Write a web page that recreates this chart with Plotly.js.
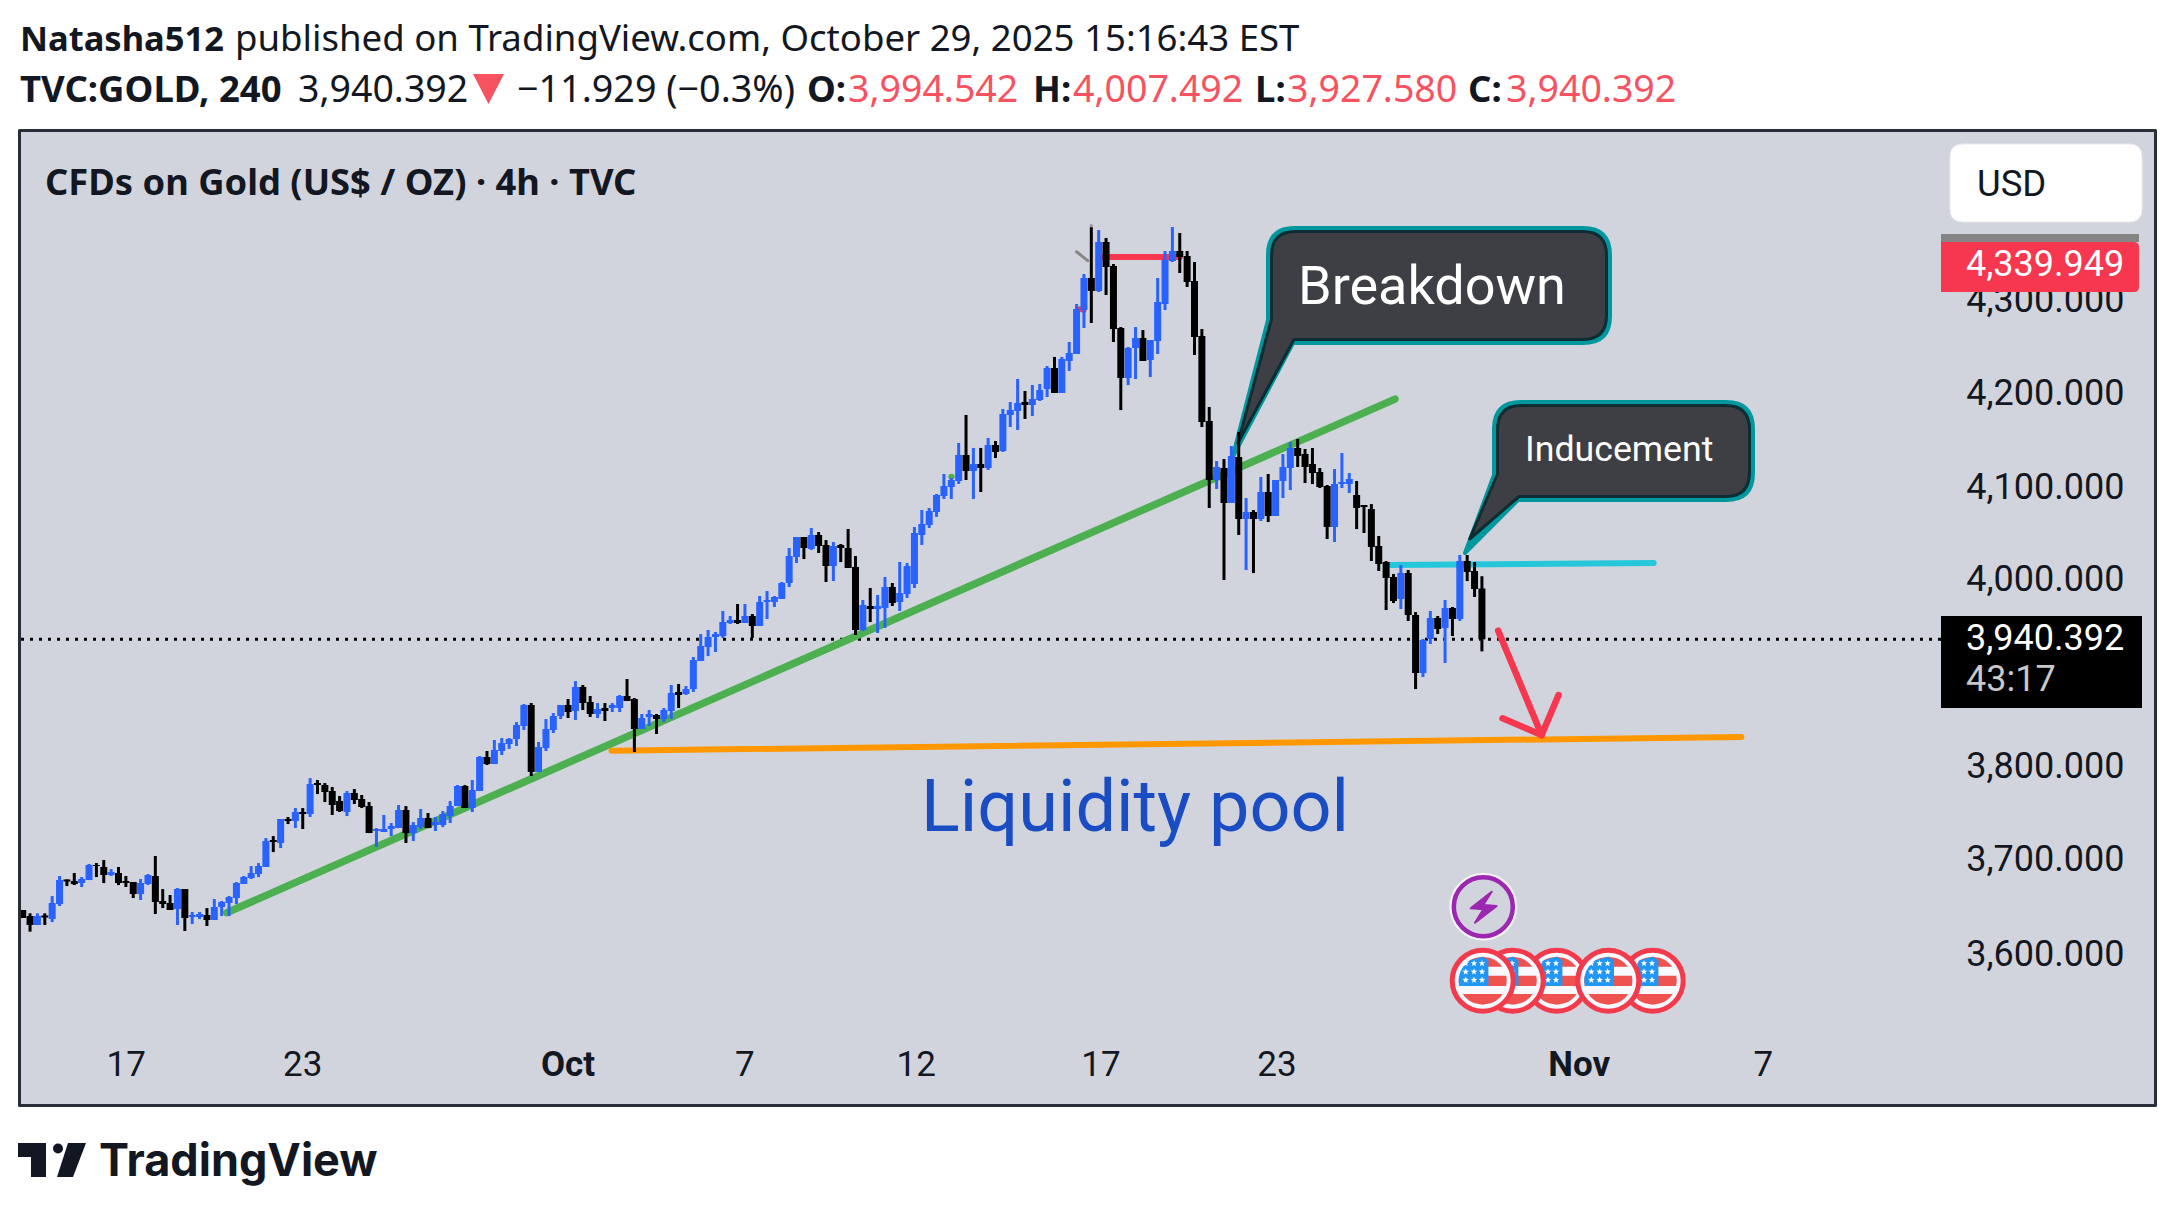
<!DOCTYPE html>
<html><head><meta charset="utf-8">
<script src="https://cdn.plot.ly/plotly-3.0.1.min.js"></script>
<style>html,body{margin:0;padding:0;background:#fff}.shapelayer path{stroke-linecap:round;stroke-linejoin:round}.shapelayer path[style*="dasharray: 3"]{stroke-linecap:butt}</style>
</head><body><div id="chart" style="width:2175px;height:1215px"></div>
<script>
// Gold 4h candles (oldest to newest)
const opens=[3652.4,3646,3636.5,3646.7,3642.8,3658.8,3685,3683.3,3681.1,3684.3,3700.3,3698.2,3689.6,3691.8,3683.3,3682.2,3669.4,3680.1,3688.6,3662,3659.9,3653.5,3674.7,3645,3645,3647.1,3641.8,3655.6,3659.9,3665.2,3680.1,3686.5,3690.7,3698.2,3726.9,3723.7,3749.2,3747.1,3756.7,3754.5,3787.5,3785.4,3779,3768.4,3756.7,3776.9,3770.5,3763,3736.5,3735.4,3738.6,3739.6,3758.8,3734.3,3740.7,3750.3,3742.8,3742.8,3752.4,3763,3784.3,3760.9,3779,3815.2,3807.7,
3821.6,3829,3834.3,3848.2,3870.5,3799.2,3824.8,3843.9,3858.8,3870.5,3864.1,3889.7,3873.7,3861,3867.3,3867.3,3867.3,3880.1,3876.9,3845,3857.8,3859.9,3855.6,3864.1,3884.4,3882.2,3887.5,3917.3,3932.2,3942.9,3943.9,3957.8,3961,3957.8,3965.2,3954.6,3980.1,3980.1,3983.3,4000.3,4028,4049.2,4036.5,4051.4,4040.7,4018.4,4040.7,4037.5,4017.3,3950.3,3975.8,
3972.7,3973.7,3996.1,3980.1,3988.6,3999.3,4051.4,4062.1,4075.9,4092.9,4102.5,4108.9,4136.5,4119.5,4127,4122.7,4147.1,4140.8,4179.1,4183.3,4192.9,4189.7,4195,4206.7,4229,4202.5,4236.5,4244,
4290.7,4324.8,4310.9,4363,4337.5,4271.6,4218.4,4250.3,4260.9,4237.5,4257.8,4297.1,4342.8,4353.5,4348.2,4321.6,4263,4172.6,4109.9,4122.6,4085.4,4134.3,
4068.4,4075.8,4068.4,4097.1,4071.6,4108.8,4122.6,4143.9,4137.5,4126.9,4118.4,4103.5,4059.9,4105.6,4105.6,4093.9,4083.3,4079,4039.7,4022.6,4006.7,3983.3,4010.9,3966.3,3904.6,3940.7,3963.1,3952.4,3973.7,3962,4023.7,4013.1,3994.5];
const highs=[3652.4,3648.9,3648.9,3648.9,3667.3,3688.6,3685,3691.8,3687.5,3701.4,3702.4,3705.6,3696,3698.2,3688.6,3682.2,3685.4,3690.7,3709.9,3674.7,3668.4,3675.8,3674.7,3650.3,3650.3,3654.5,3664.1,3662,3667.3,3682.2,3688.6,3699.2,3702.4,3729,3731.1,3749.2,3751.4,3760.9,3760.9,3792.8,3790.7,3787.5,3783.3,3773.7,3779,3781.1,3774.8,3767.3,3739.6,3753.5,3745,3764.1,3763,3746,3759.9,3755.6,3751.4,3757.7,3768.4,3785.4,3785.4,3790.7,3816.2,3821.6,3833.3,
3835.4,3835.4,3852.4,3871.6,3872.6,3831.2,3855.6,3862,3870.5,3876.9,3896,3891.8,3880.1,3872.6,3872.6,3872.6,3881.2,3898.2,3878,3861,3865.2,3861,3867.3,3891.8,3892.9,3890.7,3921.6,3946,3950.3,3948.2,3970.5,3965.2,3978,3978,3967.3,3986.5,3991.8,3986.5,4001.4,4037.5,4049.2,4049.2,4058.8,4054.6,4046,4043.9,4041.8,4057.8,4029,3982.2,3995,
3987.6,4006.7,4000.3,4022.7,4021.6,4059.9,4078,4080.1,4095,4116.3,4112,4149.3,4179.1,4144,4144,4154.6,4151.4,4185.4,4192.9,4217.4,4204.6,4211,4212,4231.2,4240.8,4240.8,4256.7,4297.1,
4329,4378.7,4375.8,4367.3,4339.7,4272.6,4251.4,4272.6,4269.4,4258.8,4324.8,4353.5,4379,4372.6,4353.5,4341.8,4270.5,4187.5,4130.1,4132.2,4146,4160.9,
4090.7,4077.9,4113.1,4116.3,4109.9,4137.5,4150.3,4153.5,4142.9,4143.9,4122.6,4104.6,4121.6,4138.6,4117.3,4108.8,4083.3,4084.3,4050.3,4023.7,4009.9,4019.4,4014.1,3969.4,3940.7,3970.5,3965.2,3982.2,3974.8,4030.1,4030.1,4022.6,4007.5];
const lows=[3643.9,3629.4,3636.5,3636.5,3639.6,3656.7,3677.9,3679,3676.9,3684.3,3687.5,3681.1,3688.6,3679,3676.9,3665.2,3663.1,3679,3648.2,3654.5,3652.4,3636.5,3630.1,3637.5,3642.8,3635.4,3641.8,3646,3646,3658.8,3680.1,3685.4,3687.5,3698.2,3714.1,3718.4,3743.9,3739.6,3738.6,3751.4,3775.8,3767.3,3753.5,3756.7,3752.4,3765.2,3760.9,3734.3,3719.4,3735.4,3731.1,3739.6,3723.7,3725.8,3738.6,3739.6,3736.5,3740.7,3745,3763,3760.9,3756.7,3779,3806.7,3807.7,
3817.3,3823.7,3826.9,3843.9,3795,3799.2,3821.6,3840.7,3855.6,3856.7,3854.6,3865.2,3857.8,3856.7,3853.5,3863.1,3863.1,3874.8,3820.5,3845,3848.2,3839.7,3852.4,3855.6,3867.3,3881.2,3884.4,3917.3,3922.6,3926.9,3941.8,3956.7,3956.7,3957.8,3941.8,3954.6,3962,3974.8,3983.3,3996,4021.6,4025.8,4035.4,4032.2,4001.4,4002.4,4022.6,4016.3,3945,3949.2,3958.8,
3947.2,3952.5,3975.9,3970.6,3984.4,3995,4040.8,4058.8,4070.6,4089.7,4089.7,4105.7,4109.9,4089.7,4097.1,4120.6,4133.3,4139.7,4166.3,4163.1,4174.8,4178,4193.9,4198.2,4202.5,4202.5,4225.9,4244,
4271.6,4276.9,4309.9,4306.7,4256.7,4184.3,4210.9,4217.3,4236.5,4219.4,4243.9,4290.7,4341.8,4330.1,4315.2,4242.9,4166.3,4080.1,4100.3,4003.5,4085.4,4051.4,
4014.1,4010.9,4066.3,4065.2,4071.6,4090.7,4099.2,4123.7,4106.7,4105.6,4101.4,4047.1,4043.9,4101.4,4096.1,4057.7,4053.5,4023.7,4013.1,3971.6,3979,3972.6,3959.9,3887.5,3900.3,3935.4,3946,3915.2,3943.9,3959.9,4002.4,3985.4,3927.6];
const closes=[3643.9,3636.5,3646,3644.6,3659.9,3684.3,3682.9,3680.1,3685.4,3700.3,3699.2,3689.6,3692.8,3681.1,3681.1,3669.4,3681.1,3689.6,3660.9,3658.8,3652.4,3674.7,3643.9,3647.1,3648.2,3641.8,3655.6,3660.9,3666.2,3681.1,3687.5,3691.8,3699.2,3725.8,3724.8,3749.2,3747.1,3756.7,3754.5,3786.4,3785.4,3777.9,3764.1,3757.7,3776.9,3769.4,3762,3734.3,3738.6,3738.6,3741.8,3758.8,3734.3,3742.8,3750.3,3739.6,3746,3754.5,3763,3784.3,3760.9,3780.1,3815.2,3807.7,3822.6,
3830.1,3834.3,3849.2,3870.5,3799.2,3825.8,3845,3858.8,3870.5,3863.1,3889.7,3872.6,3861,3866.3,3864.1,3870.5,3880.1,3874.8,3845,3856.7,3861,3855.6,3865.2,3883.3,3881.2,3887.5,3918.4,3933.3,3942.9,3946,3958.8,3961,3957.8,3965.2,3954.6,3980.1,3982.2,3985.4,4000.3,4029,4049.2,4037.5,4051.4,4039.7,4018.4,4039.7,4037.5,4016.3,3950.3,3976.9,3972.6,
3975.9,3996.1,3979.1,3989.7,4018.4,4053.5,4063.1,4077,4094,4103.5,4109.9,4136.5,4119.5,4127,4122.7,4147.1,4139.7,4180.1,4184.4,4191.8,4189.7,4196.1,4205.6,4229,4202.5,4238.6,4245,4291.8,
4324.8,4310.9,4363,4336.5,4270.5,4218.4,4250.3,4260.9,4236.5,4258.8,4299.2,4343.9,4353.5,4347.1,4320.5,4262,4171.6,4109.9,4123.7,4085.4,4135.4,4068.4,
4075.8,4068.4,4097.1,4071.6,4109.9,4123.7,4143.9,4135.4,4123.7,4117.3,4102.4,4059.9,4105.6,4107.7,4110.9,4080.1,4081.2,4038.6,4020.5,4005.6,3981.1,4010.9,3966.3,3904.6,3939.7,3963.1,3951.4,3973.7,3962,4023.7,4012,3993.9,3940.4];
const candleIndex=opens.map((_,i)=>i);

// axis ticks
const priceTickPositions=[3606,3707,3806,4005,4103,4203,4301.5];
const priceTickLabels=['3,600.000','3,700.000','3,800.000','4,000.000','4,100.000','4,200.000','4,300.000'];
const dateTickPositions=[14.05,38,74,98,121.25,146.3,170.2,211.2,236.2];
const dateTickLabels=['17','23','<b>Oct</b>','7','12','17','23','<b>Nov</b>','7'];

// drawings on the chart: [index, price] pairs
const trendLine=[[27.7,3649.6],[186.2,4196.0]];
const liquidityLine=[[79.9,3821.9],[233.2,3836.5]];
const inducementLine=[[185.5,4019.5],[221.3,4021.6]];
const topLine=[[146.6,4347.1],[157,4347.1]];
const arrowShaft=[[200.2,3949.6],[206.1,3838.6]];
const arrowHeadLeft=[[200.8,3856.4],[206.1,3838.6]];
const arrowHeadRight=[[208.4,3881.1],[206.1,3838.6]];
const greyTick=[[143,4352.7],[144.5,4343.2]];
const lastPrice=3940.392;

const W=2175,H=1215,PL=21,PR=1946,PT=132,PB=1030;
const BG='#d1d4dc',INK='#131722',RED='#f7374f',TEAL='#00979f',DARK='#0d2d33',BOX='#3e3f44';
const px=x=>(x-PL)/(PR-PL), py=y=>(PB-y)/(PB-PT);
const pt=(x,y)=>px(x)+','+py(y);
const shapes=[];
const pshape=(o)=>shapes.push(Object.assign({xref:'paper',yref:'paper',layer:'below'},o));
const rect=(x0,y0,x1,y1,o)=>pshape(Object.assign({type:'rect',x0:px(x0),x1:px(x1),y0:py(y0),y1:py(y1)},o));
const circ=(cx,cy,r,o)=>pshape(Object.assign({type:'circle',x0:px(cx-r),x1:px(cx+r),y0:py(cy-r),y1:py(cy+r)},o));
const poly=(pts,o)=>pshape(Object.assign({type:'path',path:'M'+pts.map(p=>pt(p[0],p[1])).join('L')+'Z'},o));
const dline=(seg,color,width,extra)=>shapes.push(Object.assign({type:'line',xref:'x',yref:'y',layer:'below',x0:seg[0][0],y0:seg[0][1],x1:seg[1][0],y1:seg[1][1],line:{color:color,width:width}},extra||{}));
function rrect(l,t,r,b,rl,rr,o){
  const p='M'+pt(l+rl,t)+'L'+pt(r-rr,t)+'Q'+pt(r,t)+' '+pt(r,t+rr)+'L'+pt(r,b-rr)+'Q'+pt(r,b)+' '+pt(r-rr,b)+'L'+pt(l+rl,b)+'Q'+pt(l,b)+' '+pt(l,b-rl)+'L'+pt(l,t+rl)+'Q'+pt(l,t)+' '+pt(l+rl,t)+'Z';
  pshape(Object.assign({type:'path',path:p},o));
}

// frame
rect(19.5,130.5,2155.5,1105.5,{fillcolor:BG,line:{color:'#2a2e39',width:3}});

// callouts
function calloutPath(l,t,r,b,rad,tip,jy,jx){
  const R=Math.min(rad,(b-t)/2);
  return 'M'+pt(l+R,t)+'L'+pt(r-R,t)+'Q'+pt(r,t)+' '+pt(r,t+R)+'L'+pt(r,b-R)+'Q'+pt(r,b)+' '+pt(r-R,b)+
    'L'+pt(jx,b)+'L'+pt(tip[0],tip[1])+'L'+pt(l,jy)+'L'+pt(l,t+R)+'Q'+pt(l,t)+' '+pt(l+R,t)+'Z';
}
function callout(l,t,r,b,rad,tip,jy,jx){
  pshape({type:'path',path:calloutPath(l+2,t+2,r-2,b-2,rad,tip,jy,jx+1),fillcolor:TEAL,line:{color:TEAL,width:4}});
  const tip2=[tip[0]+(jx-tip[0])*0.07+1,tip[1]-14];
  pshape({type:'path',path:calloutPath(l+5.5,t+5.5,r-5.5,b-5.5,rad-3,tip2,jy-1,jx+2),fillcolor:BOX,line:{color:DARK,width:3}});
}
callout(1266,226,1612,345,27,[1232.7,457],320,1292);
callout(1492,400,1755,502,27,[1465,553],475,1517);

// drawn levels
dline(trendLine,'#4caf50',7.5);
dline([[126,4113.4],[126.05,4113.4]],'#4caf50',6);
dline(liquidityLine,'#ff9800',6);
dline(inducementLine,'#26c6da',6);
dline(topLine,RED,6);
dline([[143.4,4292],[144,4290]],RED,5);
dline(greyTick,'#868686',3);
dline([[145,4381],[145,4378.5]],'#9a9a9a',3);
shapes.push({type:'line',xref:'paper',yref:'y',layer:'below',x0:0,x1:1,y0:lastPrice,y1:lastPrice,line:{color:'#000',width:3,dash:'3px,6px'}});
dline(arrowShaft,RED,6.5);dline(arrowHeadLeft,RED,6.5);dline(arrowHeadRight,RED,6.5);

// lightning event marker
circ(1483.3,906.7,34,{fillcolor:'#f4f4f8',line:{width:0}});
circ(1483.3,906.7,29.5,{fillcolor:BG,line:{color:'#9c27b0',width:4.5}});
poly([[1491.7,891.7],[1470.7,908.3],[1483.3,909.3],[1475,922.7],[1496.7,906],[1483.3,905]],{fillcolor:'#9c27b0',line:{color:'#9c27b0',width:2}});

// flag event markers
function band(cx,cy,r,y0,y1,x0,x1){
  const L=[],Rr=[];
  for(let y=y0;y<=y1+0.001;y+=(y1-y0)/8){
    const w=Math.sqrt(Math.max(0,r*r-y*y));
    L.push([cx+Math.max(-w,x0),cy+y]);Rr.unshift([cx+Math.min(w,x1),cy+y]);
  }
  return L.concat(Rr);
}
function star(cx,cy,r){
  const a=[];for(let k=0;k<10;k++){const q=k%2?r*0.42:r,t=-Math.PI/2+k*Math.PI/5;a.push([cx+q*Math.cos(t),cy+q*Math.sin(t)]);}
  return a;
}
function flag(cx){
  const cy=980.7,r=24,S='#ef5350';
  circ(cx,cy,30.5,{fillcolor:'#f8f8ff',line:{color:'#f23a4d',width:5}});
  [[-24,-14],[-5,5.3],[13.3,24]].forEach(b=>poly(band(cx,cy,r,b[0],b[1],-30,30),{fillcolor:S,line:{width:0}}));
  poly(band(cx,cy,r,-24,5.3,-30,5.7),{fillcolor:'#2196f3',line:{width:0}});
  [-17.3,-9,-0.7].forEach(dy=>[-17,-8.7,-0.7].forEach(dx=>poly(star(cx+dx,cy+dy,3.4),{fillcolor:'#fff',line:{width:0}})));
}
[1556.7,1652.7,1608.3,1512.7,1482.7].forEach(flag);

// price scale widgets
rrect(1950,144,2142,222,13,13,{fillcolor:'#fff',line:{color:'#ececf0',width:1},layer:'above'});
rect(1941,234,2139,242,{fillcolor:'#858585',line:{width:0},layer:'above'});
rrect(1941,242,2139,292,0.01,5,{fillcolor:RED,line:{width:0},layer:'above'});
rect(1941,616,2142,708,{fillcolor:'#000',line:{width:0},layer:'above'});

// header triangle
poly([[473,74],[504,74],[488.5,104]],{fillcolor:'#f7525f',line:{width:0}});

// TradingView logo
const ink={fillcolor:INK,line:{width:0}};
poly([[18,1143],[46,1143],[46,1177],[31,1177],[31,1157],[18,1157]],ink);
circ(58,1148.5,5,ink);
poly([[68,1143],[86,1143],[73,1177],[57,1177]],ink);

const T=(text,x,y,size,color,anchor,family)=>({text:text,x:px(x),y:py(y),xref:'paper',yref:'paper',showarrow:false,xanchor:anchor||'left',yanchor:'middle',borderpad:0,font:{size:size,color:color,family:family||'Roboto'}});
const RT='#f7525f',HF='Noto Sans';
const annotations=[
 T('<b>Natasha512</b>',19,37,34.5,INK,'left',HF),
 T('published on TradingView.com, October 29, 2025 15:16:43 EST',234,37,36.6,INK,'left',HF),
 T('<b>TVC:GOLD, 240</b>',19,88,36.5,INK,'left',HF),
 T('3,940.392',297,88,37.5,INK,'left',HF),
 T('−11.929 (−0.3%)',516,88,37.7,INK,'left',HF),
 T('<b>O:</b>',806,88,36.5,INK,'left',HF),
 T('3,994.542',847,88,37.5,RT,'left',HF),
 T('<b>H:</b>',1032,88,36.5,INK,'left',HF),
 T('4,007.492',1072,88,37.5,RT,'left',HF),
 T('<b>L:</b>',1254,88,36.5,INK,'left',HF),
 T('3,927.580',1286,88,37.5,RT,'left',HF),
 T('<b>C:</b>',1467,88,36.5,INK,'left',HF),
 T('3,940.392',1505,88,37.5,RT,'left',HF),
 T('<b>CFDs on Gold (US$ / OZ) · 4h · TVC</b>',44,181,36.3,INK,'left',HF),
 T('Breakdown',1297,285,54,'#fff'),
 T('Inducement',1524,449,35.7,'#fff'),
 T('Liquidity pool',919.5,806,72,'#1a4cc4'),
 T('USD',1976,183,36.5,INK),
 T('4,339.949',1965,264,36,'#fff'),
 T('3,940.392',1965,638,36,'#fff'),
 T('43:17',1965,679,36,'#c8c8c8'),
 T('<b>TradingView</b>',98,1159,45,INK,'left','Inter')
];

const trBody={type:'candlestick',x:candleIndex,open:opens,high:highs,low:lows,close:closes,
  increasing:{line:{color:'#2962ff',width:0},fillcolor:'#2962ff'},
  decreasing:{line:{color:'#000',width:0},fillcolor:'#000'},hoverinfo:'skip',showlegend:false};
const trWick={type:'ohlc',x:candleIndex,open:opens,high:highs,low:lows,close:closes,tickwidth:0,
  increasing:{line:{color:'#2962ff',width:3}},decreasing:{line:{color:'#000',width:3}},hoverinfo:'skip',showlegend:false};

Plotly.newPlot('chart',[trWick,trBody],{
  width:W,height:H,margin:{l:PL,r:W-PR,t:PT,b:H-PB,autoexpand:false},
  paper_bgcolor:'#fff',plot_bgcolor:'rgba(0,0,0,0)',showlegend:false,
  boxmode:'overlay',boxgap:0.05,boxgroupgap:0,
  xaxis:{range:[-0.23,260.97],rangeslider:{visible:false},tickmode:'array',tickvals:dateTickPositions,ticktext:dateTickLabels,
    showgrid:false,zeroline:false,showline:false,ticks:'outside',ticklen:3,tickcolor:'rgba(0,0,0,0)',
    tickfont:{family:'Roboto',size:35,color:INK},tickangle:0},
  yaxis:{range:[3524.8,4480.1],side:'right',tickmode:'array',tickvals:priceTickPositions,ticktext:priceTickLabels,
    showgrid:false,zeroline:false,showline:false,ticks:'outside',ticklen:12,tickcolor:'rgba(0,0,0,0)',
    tickfont:{family:'Roboto',size:36,color:INK}},
  shapes:shapes,annotations:annotations
},{displayModeBar:false,staticPlot:true});
</script></body></html>
